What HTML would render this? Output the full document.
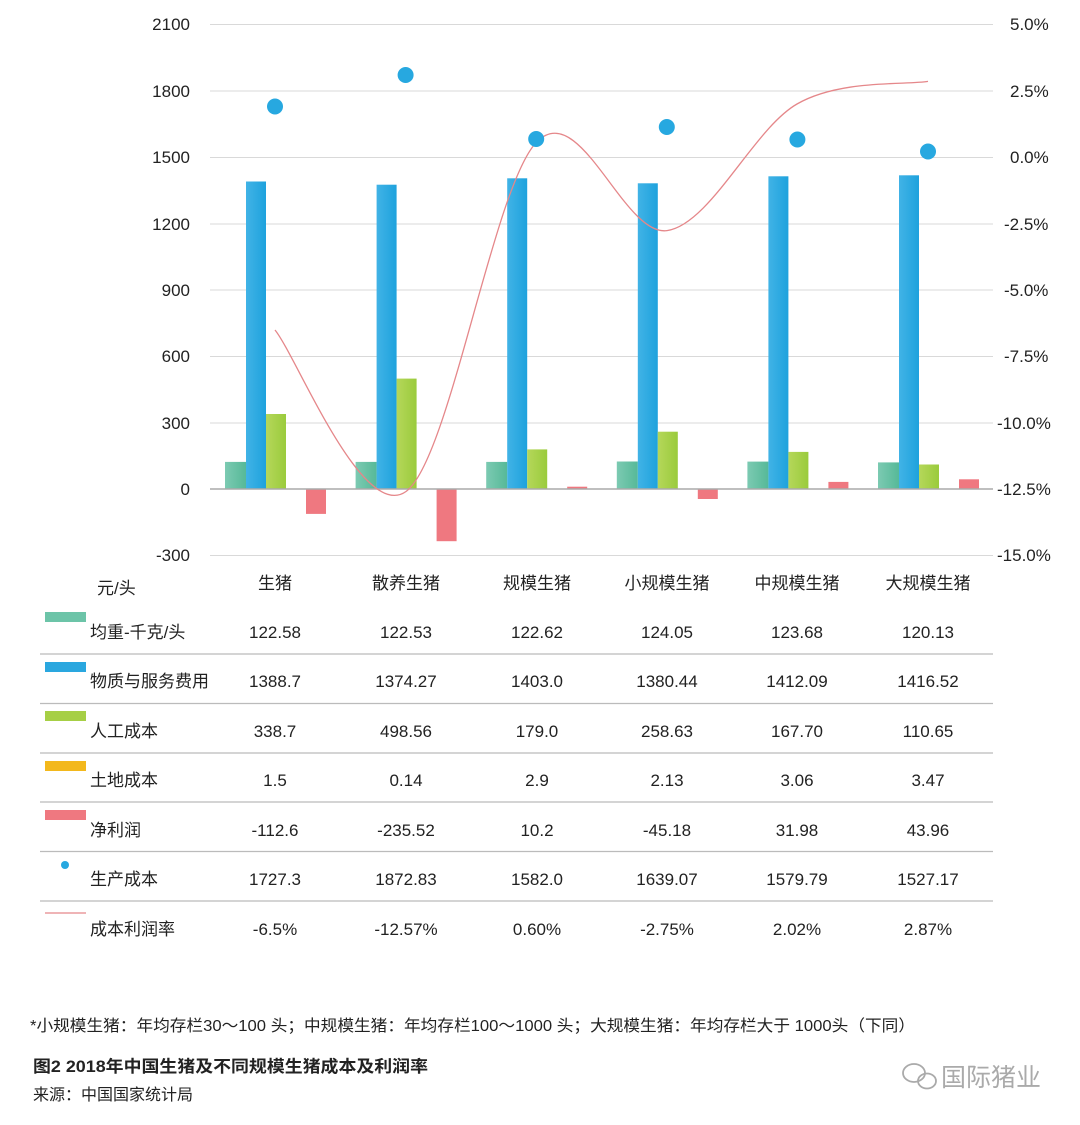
<!DOCTYPE html>
<html><head><meta charset="utf-8"><style>
html,body{margin:0;padding:0;background:#fff;}
svg{display:block;font-family:"Liberation Sans","Noto Sans CJK SC",sans-serif;}
</style></head><body>
<svg width="1080" height="1125" viewBox="0 0 1080 1125">
<defs>
<linearGradient id="gT" x1="0" x2="1"><stop offset="0" stop-color="#7ccab2"/><stop offset="1" stop-color="#56b998"/></linearGradient>
<linearGradient id="gB" x1="0" x2="1"><stop offset="0" stop-color="#41b3e6"/><stop offset="1" stop-color="#1ea2dd"/></linearGradient>
<linearGradient id="gG" x1="0" x2="1"><stop offset="0" stop-color="#b5d75a"/><stop offset="1" stop-color="#9acb3c"/></linearGradient>
</defs>
<g stroke="#d9d9d9" stroke-width="1">
<line x1="210" x2="993" y1="24.5" y2="24.5"/><line x1="210" x2="993" y1="91" y2="91"/><line x1="210" x2="993" y1="157.5" y2="157.5"/><line x1="210" x2="993" y1="224" y2="224"/><line x1="210" x2="993" y1="290" y2="290"/><line x1="210" x2="993" y1="356.5" y2="356.5"/><line x1="210" x2="993" y1="423" y2="423"/><line x1="210" x2="993" y1="555.5" y2="555.5"/>
</g>
<g font-size="17" fill="#222" text-anchor="end">
<text x="190" y="30">2100</text><text x="190" y="97">1800</text><text x="190" y="163">1500</text><text x="190" y="230">1200</text><text x="190" y="296">900</text><text x="190" y="362">600</text><text x="190" y="429">300</text><text x="190" y="495">0</text><text x="190" y="561">-300</text>
</g>
<g font-size="17" fill="#222" text-anchor="start">
<text x="1010" y="30">5.0%</text><text x="1010" y="97">2.5%</text><text x="1010" y="163">0.0%</text><text x="1004" y="230">-2.5%</text><text x="1004" y="296">-5.0%</text><text x="1004" y="362">-7.5%</text><text x="997" y="429">-10.0%</text><text x="997" y="495">-12.5%</text><text x="997" y="561">-15.0%</text>
</g>
<g>
<rect x="225" y="461.9" width="21" height="27.1" fill="url(#gT)"/><rect x="246" y="181.5" width="20" height="307.5" fill="url(#gB)"/><rect x="266" y="414" width="20" height="75" fill="url(#gG)"/><rect x="306" y="489" width="20" height="24.9" fill="#ef7880"/>
<rect x="355.6" y="461.9" width="21" height="27.1" fill="url(#gT)"/><rect x="376.6" y="184.7" width="20" height="304.3" fill="url(#gB)"/><rect x="396.6" y="378.6" width="20" height="110.4" fill="url(#gG)"/><rect x="436.6" y="489" width="20" height="52.2" fill="#ef7880"/>
<rect x="486.2" y="461.9" width="21" height="27.1" fill="url(#gT)"/><rect x="507.2" y="178.3" width="20" height="310.7" fill="url(#gB)"/><rect x="527.2" y="449.4" width="20" height="39.6" fill="url(#gG)"/><rect x="567.2" y="486.7" width="20" height="2.3" fill="#ef7880"/>
<rect x="616.8" y="461.5" width="21" height="27.5" fill="url(#gT)"/><rect x="637.8" y="183.3" width="20" height="305.7" fill="url(#gB)"/><rect x="657.8" y="431.7" width="20" height="57.3" fill="url(#gG)"/><rect x="697.8" y="489" width="20" height="10" fill="#ef7880"/>
<rect x="747.4" y="461.6" width="21" height="27.4" fill="url(#gT)"/><rect x="768.4" y="176.3" width="20" height="312.7" fill="url(#gB)"/><rect x="788.4" y="451.9" width="20" height="37.1" fill="url(#gG)"/><rect x="828.4" y="481.9" width="20" height="7.1" fill="#ef7880"/>
<rect x="878" y="462.4" width="21" height="26.6" fill="url(#gT)"/><rect x="899" y="175.3" width="20" height="313.7" fill="url(#gB)"/><rect x="919" y="464.5" width="20" height="24.5" fill="url(#gG)"/><rect x="959" y="479.3" width="20" height="9.7" fill="#ef7880"/>
</g>
<line x1="210" x2="993" y1="489" y2="489" stroke="#aaa" stroke-width="1.5"/>
<path d="M275,330 C296.8,356.9 362.3,522.9 406,491.5 C449.7,460.1 493.5,185.2 537,141.7 C580.5,98.2 623.7,236.9 667,230.6 C710.3,224.3 753.5,128.9 797,104 C840.5,79.1 906.2,85.2 928,81.4" fill="none" stroke="#e5878a" stroke-width="1.3"/>
<g fill="#27a8e0">
<circle cx="275" cy="106.5" r="8"/><circle cx="405.6" cy="75" r="8"/><circle cx="536.2" cy="139" r="8"/><circle cx="666.8" cy="127" r="8"/><circle cx="797.4" cy="139.5" r="8"/><circle cx="928" cy="151.5" r="8"/>
</g>
<g font-size="17" fill="#222">
<text x="97" y="594">元/头</text>
<g text-anchor="middle">
<text x="275" y="589">生猪</text><text x="406" y="589">散养生猪</text><text x="537" y="589">规模生猪</text><text x="667" y="589">小规模生猪</text><text x="797" y="589">中规模生猪</text><text x="928" y="589">大规模生猪</text>
</g>
<text x="90" y="638">均重-千克/头</text>
<text x="90" y="687">物质与服务费用</text>
<text x="90" y="737">人工成本</text>
<text x="90" y="786">土地成本</text>
<text x="90" y="836">净利润</text>
<text x="90" y="885">生产成本</text>
<text x="90" y="935">成本利润率</text>
<g text-anchor="middle">
<text x="275" y="638">122.58</text><text x="406" y="638">122.53</text><text x="537" y="638">122.62</text><text x="667" y="638">124.05</text><text x="797" y="638">123.68</text><text x="928" y="638">120.13</text>
<text x="275" y="687">1388.7</text><text x="406" y="687">1374.27</text><text x="537" y="687">1403.0</text><text x="667" y="687">1380.44</text><text x="797" y="687">1412.09</text><text x="928" y="687">1416.52</text>
<text x="275" y="737">338.7</text><text x="406" y="737">498.56</text><text x="537" y="737">179.0</text><text x="667" y="737">258.63</text><text x="797" y="737">167.70</text><text x="928" y="737">110.65</text>
<text x="275" y="786">1.5</text><text x="406" y="786">0.14</text><text x="537" y="786">2.9</text><text x="667" y="786">2.13</text><text x="797" y="786">3.06</text><text x="928" y="786">3.47</text>
<text x="275" y="836">-112.6</text><text x="406" y="836">-235.52</text><text x="537" y="836">10.2</text><text x="667" y="836">-45.18</text><text x="797" y="836">31.98</text><text x="928" y="836">43.96</text>
<text x="275" y="885">1727.3</text><text x="406" y="885">1872.83</text><text x="537" y="885">1582.0</text><text x="667" y="885">1639.07</text><text x="797" y="885">1579.79</text><text x="928" y="885">1527.17</text>
<text x="275" y="935">-6.5%</text><text x="406" y="935">-12.57%</text><text x="537" y="935">0.60%</text><text x="667" y="935">-2.75%</text><text x="797" y="935">2.02%</text><text x="928" y="935">2.87%</text>
</g>
</g>
<rect x="45" y="612" width="41" height="10" fill="#6cc4a8"/>
<rect x="45" y="662" width="41" height="10" fill="#2aa7df"/>
<rect x="45" y="711" width="41" height="10" fill="#a6cf45"/>
<rect x="45" y="761" width="41" height="10" fill="#f3b81c"/>
<rect x="45" y="810" width="41" height="10" fill="#ef7880"/>
<circle cx="65" cy="865" r="4" fill="#27a8e0"/>
<line x1="45" x2="86" y1="913" y2="913" stroke="#e5878a" stroke-width="1.3"/>
<g stroke="#bbb" stroke-width="1.3">
<line x1="40" x2="993" y1="654" y2="654"/><line x1="40" x2="993" y1="703.5" y2="703.5"/><line x1="40" x2="993" y1="753" y2="753"/><line x1="40" x2="993" y1="802" y2="802"/><line x1="40" x2="993" y1="851.5" y2="851.5"/><line x1="40" x2="993" y1="901" y2="901"/>
</g>
<text x="30" y="1031" font-size="16" fill="#222" textLength="885" lengthAdjust="spacingAndGlyphs">*小规模生猪：年均存栏30～100 头；中规模生猪：年均存栏100～1000 头；大规模生猪：年均存栏大于 1000头（下同）</text>
<text x="33" y="1072" font-size="16.5" font-weight="bold" fill="#222" textLength="395" lengthAdjust="spacingAndGlyphs">图2  2018年中国生猪及不同规模生猪成本及利润率</text>
<text x="33" y="1100" font-size="16" fill="#222">来源：中国国家统计局</text>
<g fill="none" stroke="#aaa" stroke-width="1.8"><ellipse cx="914" cy="1073" rx="11" ry="9"/><ellipse cx="927" cy="1081" rx="9" ry="7.5"/></g>
<text x="941" y="1086" font-size="25" fill="#aaa">国际猪业</text>
</svg>
</body></html>
